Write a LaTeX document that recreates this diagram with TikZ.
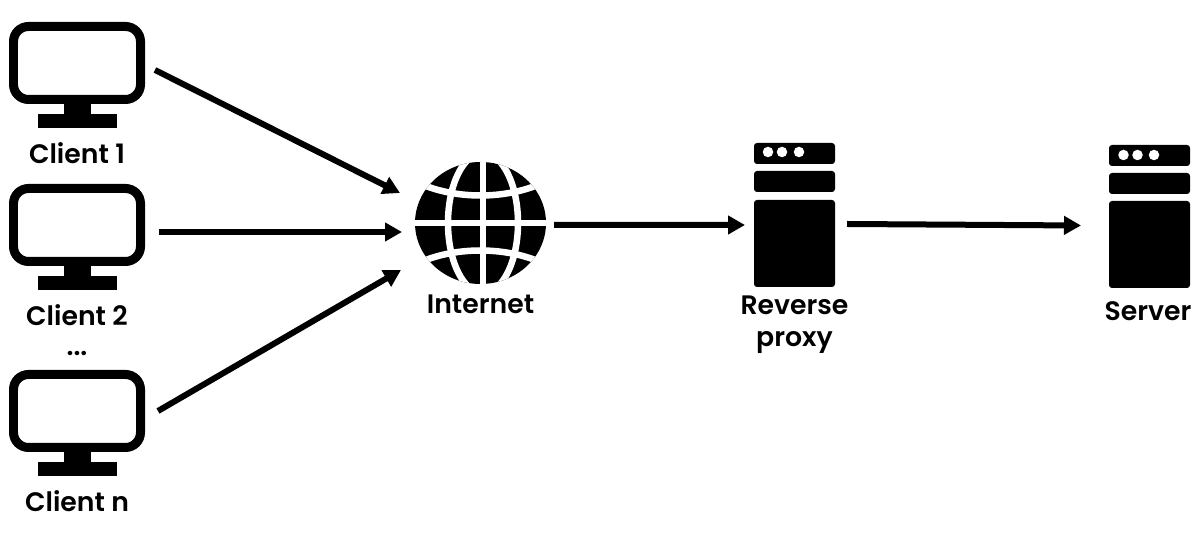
\documentclass[tikz,border=0pt]{standalone}
\usepackage{fontspec}
\setmainfont{Poppins SemiBold}
\usetikzlibrary{arrows.meta,calc,positioning,shapes.geometric}

\begin{document}
\begin{tikzpicture}[
  x=1cm,y=1cm,font=\fontsize{15.2}{18.2}\selectfont,
  flow/.style={-{Triangle[length=0.34cm,width=0.36cm]},draw=black,line width=0.12cm},
  screen/.style={draw=black,fill=white,rounded corners=0.3cm,line width=0.18cm,
    minimum width=2.54cm,minimum height=1.46cm,inner sep=0pt},
  neck/.style={fill=black,minimum width=0.54cm,minimum height=0.2cm,inner sep=0pt,outer sep=0pt},
  foot/.style={fill=black,minimum width=1.58cm,minimum height=0.28cm,inner sep=0pt,outer sep=0pt},
  rack/.style={fill=black,rounded corners=0.06cm,minimum width=1.62cm,inner sep=0pt,outer sep=0pt},
  led/.style={circle,fill=white,minimum size=0.21cm,inner sep=0pt},
  meridian/.style={draw=white,line width=0.13cm},
  tag/.style={inner sep=0pt,text height=0.4cm,text depth=0cm},
  tagpair/.style={inner sep=0pt,align=center}
]
\useasboundingbox (0,0) rectangle (24.08,10.66);

% Three clients stacked on the left.
\node[screen] (screen1) at (1.54,9.40) {};
\node[neck,below=0pt of screen1] (neck1) {};
\node[foot,below=0pt of neck1] (foot1) {};
\node[tag,below=0.3cm of foot1] (client1) {Client 1};

\node[screen] (screen2) at (1.54,6.16) {};
\node[neck,below=0pt of screen2] (neck2) {};
\node[foot,below=0pt of neck2] (foot2) {};
\node[tag,below=0.3cm of foot2] (client2) {Client 2};
\node[tag,below=0.18cm of client2] (dots) {...};

\node[screen] (screen3) at (1.54,2.44) {};
\node[neck,below=0pt of screen3] (neck3) {};
\node[foot,below=0pt of neck3] (foot3) {};
\node[tag,below=0.3cm of foot3] (clientn) {Client n};

% Globe: white grid lines are clipped to the black disc.
\node[ellipse,fill=black,minimum width=2.62cm,minimum height=2.44cm,inner sep=0pt,outer sep=0pt] (globe) at (9.61,6.20) {};
\begin{scope}[shift={(globe.center)}]
  \clip (0,0) ellipse (1.31 and 1.22);
  \draw[meridian] (0.05,0) ellipse (0.70 and 1.40);
  \draw[meridian] (0.05,-1.3) -- (0.05,1.3);
  \draw[meridian] (-1.4,0) -- (1.4,0);
  \draw[meridian] (-1.4,0.88) .. controls (-0.6,0.44) and (0.6,0.44) .. (1.4,0.88);
  \draw[meridian] (-1.4,-0.88) .. controls (-0.6,-0.44) and (0.6,-0.44) .. (1.4,-0.88);
\end{scope}
\node[tag,below=0.18cm of globe] (internet) {Internet};

% Reverse proxy.
\node[rack,minimum height=0.42cm] (proxytop) at (15.89,7.59) {};
\node[rack,minimum height=0.42cm,below=0.14cm of proxytop] (proxymid) {};
\node[rack,minimum height=1.74cm,below=0.16cm of proxymid] (proxybody) {};
\node[led] (proxyled1) at (15.36,7.62) {};
\node[led] (proxyled2) at (15.64,7.62) {};
\node[led] (proxyled3) at (15.98,7.62) {};
\node[tagpair,below=0.18cm of proxybody] (proxy) {Reverse\\proxy};

% Server.
\node[rack,minimum height=0.42cm] (servertop) at (22.99,7.55) {};
\node[rack,minimum height=0.42cm,below=0.14cm of servertop] (servermid) {};
\node[rack,minimum height=1.74cm,below=0.14cm of servermid] (serverbody) {};
\node[led] (serverled1) at (22.47,7.56) {};
\node[led] (serverled2) at (22.75,7.56) {};
\node[led] (serverled3) at (23.08,7.56) {};
\node[tag,below=0.24cm of serverbody,xshift=-0.03cm] (server) {Server};

\draw[flow] ([shift={(0.20,-0.14)}]screen1.east) -- ([shift={(-0.30,0.60)}]globe.west);
\draw[flow] ([shift={(0.28,-0.14)}]screen2.east) -- ([shift={(-0.26,-0.18)}]globe.west);
\draw[flow] ([shift={(0.26,0)}]screen3.east) -- ([shift={(-0.28,-0.94)}]globe.west);
\draw[flow] ([shift={(0.16,-0.04)}]globe.east) -- ([shift={(-0.18,0.37)}]proxybody.west);
\draw[flow] ([shift={(0.24,0.39)}]proxybody.east) -- ([shift={(-0.56,0.38)}]serverbody.west);
\end{tikzpicture}
\end{document}
